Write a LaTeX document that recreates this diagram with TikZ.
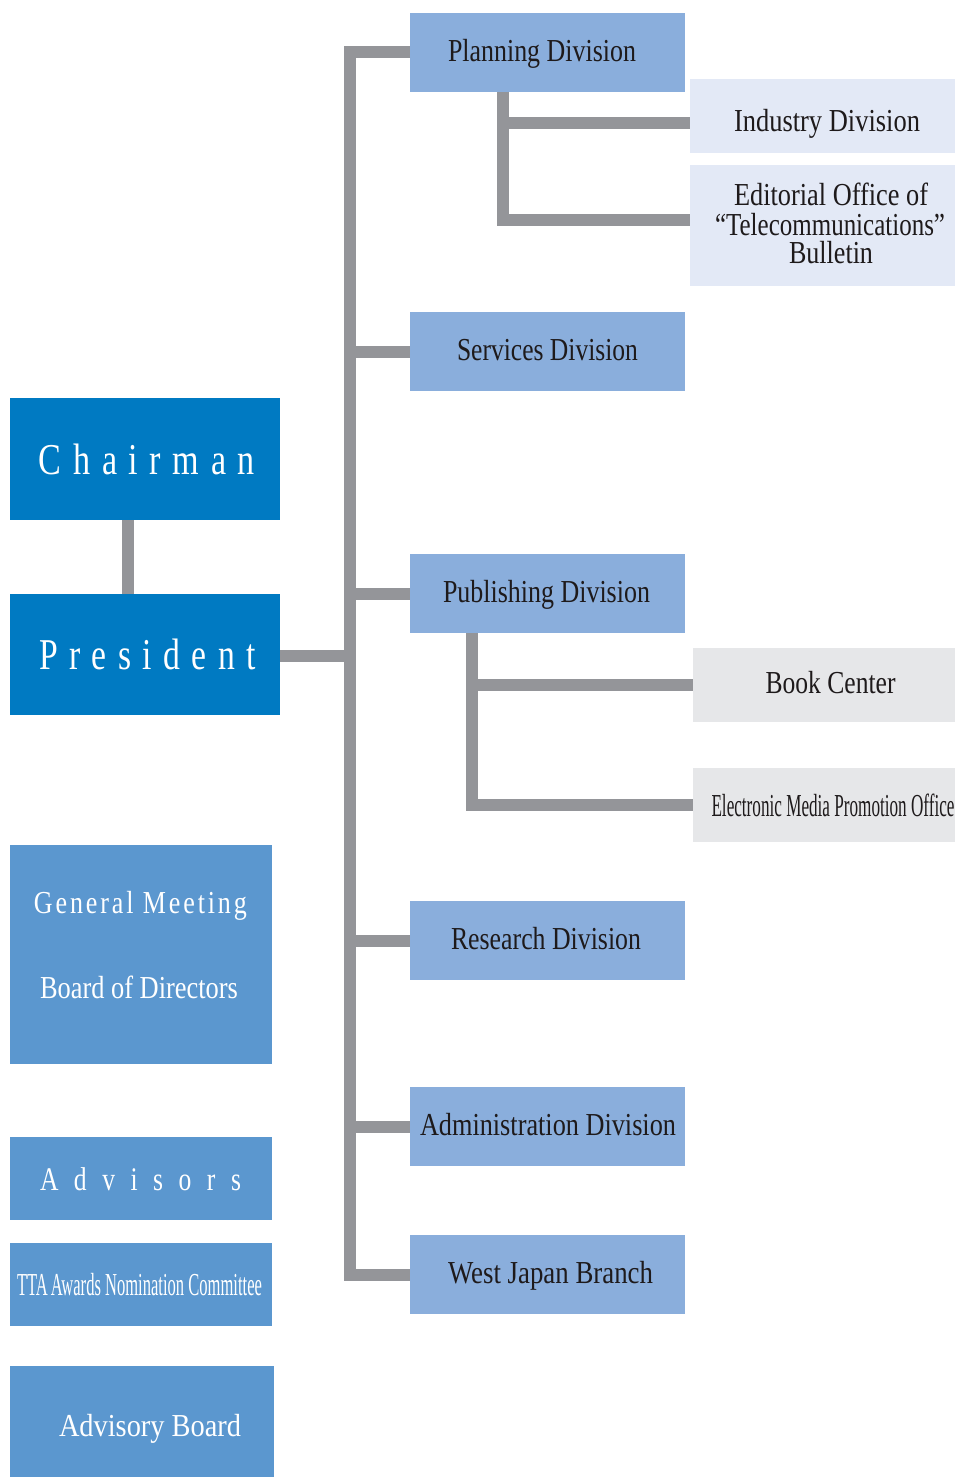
\documentclass[tikz,border=0pt]{standalone}
\usepackage{fontspec}
\setmainfont{Liberation Serif}
\usepackage{graphicx}
\definecolor{chairblue}{RGB}{0,122,194}
\definecolor{leftblue}{RGB}{91,151,207}
\definecolor{divblue}{RGB}{138,174,220}
\definecolor{subblue}{RGB}{227,233,246}
\definecolor{subgray}{RGB}{230,231,233}
\definecolor{conngray}{RGB}{148,149,153}
\definecolor{textdark}{RGB}{30,26,27}
\newcommand\hsq[2]{\resizebox{#1pt}{\height}{#2}}
\tikzset{
  conn/.style={draw=conngray, line width=12pt, line join=miter},
  box/.style={rectangle, draw=none, inner sep=0pt, outer sep=0pt},
  bigbox/.style={box, fill=chairblue, minimum width=270pt},
  leftbox/.style={box, fill=leftblue},
  divbox/.style={box, fill=divblue, minimum width=275pt, minimum height=79pt},
  subbox/.style={box, fill=subblue, minimum width=265pt},
  graybox/.style={box, fill=subgray, minimum width=262pt, minimum height=74pt},
  txt/.style={inner sep=0pt, outer sep=0pt, anchor=base, font=\fontsize{32}{32}\selectfont, text=textdark},
  wtxt/.style={txt, text=white},
  bigtxt/.style={wtxt, font=\fontsize{44}{44}\selectfont},
  edtxt/.style={txt, text height=21pt, text depth=5pt},
}
\begin{document}
\begin{tikzpicture}[x=1pt, y=-1pt]
\useasboundingbox (0,0) rectangle (955,1477);

% boxes
\node[bigbox, minimum height=122pt] (chair) at (145,459) {};
\node[bigbox, minimum height=121pt] (pres) at (145,654.5) {};
\node[leftbox, minimum width=262pt, minimum height=219pt] (gm) at (141,954.5) {};
\node[leftbox, minimum width=262pt, minimum height=83pt] (adv) at (141,1178.5) {};
\node[leftbox, minimum width=262pt, minimum height=83pt] (tta) at (141,1284.5) {};
\node[leftbox, minimum width=264pt, minimum height=111pt] (advb) at (142,1421.5) {};

\node[divbox] (plan) at (547.5,52.5) {};
\node[divbox] (serv) at (547.5,351.5) {};
\node[divbox] (pub) at (547.5,593.5) {};
\node[divbox] (res) at (547.5,940.5) {};
\node[divbox] (admin) at (547.5,1126.5) {};
\node[divbox] (west) at (547.5,1274.5) {};

\node[subbox, minimum height=74pt] (ind) at (822.5,116) {};
\node[subbox, minimum height=121pt] (edit) at (822.5,225.5) {};
\node[graybox] (book) at (824,685) {};
\node[graybox] (empo) at (824,805) {};

% connectors
\coordinate (tr) at (350,0);
\coordinate (ps) at (503,0);
\coordinate (pb) at (472,0);
\coordinate (cp) at (128,0);
\coordinate (pe) at ([yshift=-1.5pt]pres.east);
\draw[conn] (cp |- chair.south) -- (cp |- pres.north);
\draw[conn] (pe) -- (tr |- pe);
\draw[conn] (plan.west) -| (tr |- west.west) -- (west.west);
\foreach \n in {serv,pub,res,admin}{
  \draw[conn] (tr |- \n.west) -- (\n.west);
}
\draw[conn] (ps |- plan.south) |- ([yshift=-7pt]ind.west);
\draw[conn] (ps |- plan.south) |- ([yshift=5.5pt]edit.west);
\draw[conn] (pb |- pub.south) |- (empo.west);
\draw[conn] (pb |- book.west) -- (book.west);

% texts
\node[bigtxt] (chair-t) at (147,474.3) {\hsq{216}{C\hspace{15pt}h\hspace{15pt}a\hspace{15pt}i\hspace{15pt}r\hspace{15pt}m\hspace{15pt}a\hspace{15pt}n}};
\node[bigtxt] (pres-t) at (147.5,669) {\hsq{217}{P\hspace{15pt}r\hspace{15pt}e\hspace{15pt}s\hspace{15pt}i\hspace{15pt}d\hspace{15pt}e\hspace{15pt}n\hspace{15pt}t}};
\node[wtxt] (gm-t1) at (139,913.3) {\hsq{210}{\addfontfeatures{LetterSpace=11}General Meeting\hspace{-3.5pt}}};
\node[wtxt] (gm-t2) at (139,998.3) {\hsq{198}{Board of Directors}};
\node[wtxt, font=\fontsize{33}{33}\selectfont] (adv-t) at (140.5,1190) {\hsq{201}{A\hspace{20pt}d\hspace{20pt}v\hspace{20pt}i\hspace{20pt}s\hspace{20pt}o\hspace{20pt}r\hspace{20pt}s}};
\node[wtxt] (tta-t) at (139.5,1295) {\hsq{245}{TTA\hspace{-2pt} Awards Nomination Committee}};
\node[wtxt] (advb-t) at (150,1436.7) {\hsq{182}{Advisory Board}};

\node[txt] (plan-t) at (542,61.5) {\hsq{188}{Planning Division}};
\node[txt] (serv-t) at (547.5,360.5) {\hsq{181}{Services Division}};
\node[txt] (pub-t) at (546.5,602.5) {\hsq{207}{Publishing Division}};
\node[txt] (res-t) at (546,949.5) {\hsq{190}{Research Division}};
\node[txt] (admin-t) at (548,1135.5) {\hsq{256}{Administration Division}};
\node[txt] (west-t) at (550.5,1283.5) {\hsq{205}{West Japan Branch}};

\node[txt] (ind-t) at (827,131.5) {\hsq{186}{Industry Division}};
\node[edtxt] (edit-t1) at (831,205) {\hsq{194}{Editorial Office of}};
\node[edtxt] (edit-t2) at (830,235) {\hsq{230}{``Telecommunications''}};
\node[edtxt] (edit-t3) at (831,263.5) {\hsq{84}{Bulletin}};
\node[txt] (book-t) at (830.6,693.3) {\hsq{130}{Book Center}};
\node[txt] (empo-t) at (833,816) {\hsq{243}{Electronic Media Promotion Office}};
\end{tikzpicture}
\end{document}
